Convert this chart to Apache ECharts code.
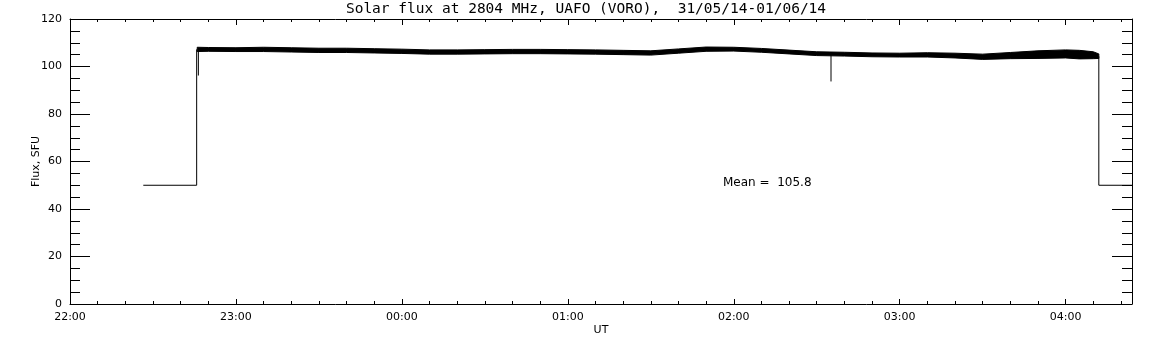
<!DOCTYPE html>
<html>
<head>
<meta charset="utf-8">
<script src="https://cdn.jsdelivr.net/npm/echarts@6/dist/echarts.min.js"></script>
<style>
  html, body { margin: 0; padding: 0; background: #fff; }
  #chart { width: 1152px; height: 345px; }
</style>
</head>
<body>
<div id="chart"></div>
<script>
// axis ticks (UT), minutes counted from 22:00
const xTickLabels = ["22:00", "23:00", "00:00", "01:00", "02:00", "03:00", "04:00"];
const axisEnd = "04:24";

const bandTimes = ["22:46", "22:50", "23:00", "23:10", "23:20", "23:30", "23:40", "23:50",
  "00:00", "00:10", "00:20", "00:30", "00:40", "00:50", "01:00", "01:10", "01:20", "01:30",
  "01:40", "01:50", "02:00", "02:10", "02:20", "02:30", "02:40", "02:50", "03:00", "03:10",
  "03:20", "03:30", "03:40", "03:50", "04:00", "04:05", "04:10", "04:12"];
const bandLow = [106.3, 106.4, 106.3, 106.3, 106.1, 105.9, 105.9, 105.7,
  105.5, 105.2, 105.2, 105.3, 105.4, 105.4, 105.3, 105.2, 105.0, 104.8,
  105.6, 106.4, 106.5, 106.0, 105.3, 104.6, 104.4, 104.1, 104.0, 104.0,
  103.6, 103.0, 103.3, 103.4, 103.6, 103.2, 103.3, 103.4];
const bandHigh = [108.1, 108.0, 107.9, 108.1, 107.9, 107.7, 107.7, 107.5,
  107.3, 107.0, 107.0, 107.1, 107.2, 107.2, 107.1, 107.0, 106.8, 106.6,
  107.4, 108.2, 108.1, 107.6, 106.9, 106.2, 106.0, 105.7, 105.6, 105.8,
  105.6, 105.2, 105.9, 106.6, 107.0, 106.8, 106.2, 105.3];

// receiver off level before / after the session
const startTimes = ["22:26:30", "22:45:48", "22:45:48"];
const startFlux = [50, 50, 107.2];
const endTimes = ["04:12:00", "04:12:00", axisEnd];
const endFlux = [104.3, 50, 50];

// two short drop-outs
const spikeTimes = ["22:46:25", "02:35:10"];
const spikeTop = [107.0, 105.5];
const spikeBottom = [96.2, 93.7];

const meanFlux = 105.8;

function toMin(s) {
  const p = s.split(":").map(Number);
  let h = p[0];
  if (h < 22) h += 24;
  return (h - 22) * 60 + p[1] + (p[2] || 0) / 60;
}

const font = "DejaVu Sans";
const black = "#000";

const bandX = bandTimes.map(toMin);
const startData = startTimes.map((t, i) => [toMin(t), startFlux[i]]);
const endData = endTimes.map((t, i) => [toMin(t), endFlux[i]]);
const spikeData = [];
spikeTimes.forEach((t, i) => {
  spikeData.push([toMin(t), spikeTop[i]], [toMin(t), spikeBottom[i]], [toMin(t), "-"]);
});

const xMax = toMin(axisEnd);

function xAxisDef(pos, interval, tickLen, withLabels) {
  return {
    type: "value",
    position: pos,
    min: 0,
    max: xMax,
    interval: interval,
    splitLine: { show: false },
    axisLine: { show: interval === 60, onZero: false, lineStyle: { color: black, width: 1 } },
    axisTick: { show: true, inside: true, length: tickLen, lineStyle: { color: black, width: 1 } },
    axisLabel: {
      show: withLabels,
      color: black,
      fontFamily: font,
      fontSize: 11,
      margin: 8,
      formatter: function (v) {
        return v % 60 === 0 ? (xTickLabels[v / 60] || "") : "";
      }
    },
    name: withLabels ? "UT" : "",
    nameLocation: "middle",
    nameGap: 21,
    nameMoveOverlap: false,
    nameTextStyle: { color: black, fontFamily: font, fontSize: 11 }
  };
}

function yAxisDef(pos, withLabels) {
  return {
    type: "value",
    position: pos,
    min: 0,
    max: 120,
    interval: 20,
    splitLine: { show: false },
    axisLine: { show: true, onZero: false, lineStyle: { color: black, width: 1 } },
    axisTick: { show: true, inside: true, length: 20, lineStyle: { color: black, width: 1 } },
    minorTick: { show: true, splitNumber: 4, length: 10, lineStyle: { color: black, width: 1 } },
    axisLabel: { show: withLabels, color: black, fontFamily: font, fontSize: 11, margin: 8 },
    name: withLabels ? "Flux, SFU" : "",
    nameLocation: "middle",
    nameGap: 28,
    nameMoveOverlap: false,
    nameTextStyle: { color: black, fontFamily: font, fontSize: 11 }
  };
}

const chart = echarts.init(document.getElementById("chart"), null, { renderer: "canvas" });

const option = {
  animation: false,
  backgroundColor: "#fff",
  grid: { left: 70, right: 20, top: 19, bottom: 41, containLabel: false },
  xAxis: [
    xAxisDef("bottom", 60, 5, true),
    xAxisDef("bottom", 10, 3, false),
    xAxisDef("top", 60, 6, false),
    xAxisDef("top", 10, 3, false)
  ],
  yAxis: [yAxisDef("left", true), yAxisDef("right", false)],
  graphic: [
    {
      type: "text",
      x: 586,
      y: 9,
      style: {
        text: "Solar flux at 2804 MHz, UAFO (VORO),  31/05/14-01/06/14",
        fill: black,
        font: "14.5px DejaVu Sans Mono",
        textAlign: "center",
        textVerticalAlign: "middle"
      }
    },
    {
      type: "text",
      x: 723,
      y: 183,
      style: {
        text: "Mean =  " + meanFlux.toFixed(1),
        fill: black,
        font: "12px " + font,
        textAlign: "left",
        textVerticalAlign: "middle"
      }
    }
  ],
  series: [
    {
      // band between lower and upper edge, drawn as one polygon
      name: "band",
      type: "custom",
      data: [0],
      silent: true,
      renderItem: function (params, api) {
        const pts = [];
        for (let i = 0; i < bandX.length; i++) pts.push(api.coord([bandX[i], bandHigh[i]]));
        for (let i = bandX.length - 1; i >= 0; i--) pts.push(api.coord([bandX[i], bandLow[i]]));
        return {
          type: "polygon",
          shape: { points: pts },
          style: { fill: black, stroke: black, lineWidth: 1 }
        };
      }
    },
    {
      name: "start",
      type: "line",
      data: startData,
      symbol: "none",
      lineStyle: { color: black, width: 1 },
      silent: true
    },
    {
      name: "end",
      type: "line",
      data: endData,
      symbol: "none",
      lineStyle: { color: black, width: 1 },
      silent: true
    },
    {
      name: "spikes",
      type: "line",
      data: spikeData,
      symbol: "none",
      connectNulls: false,
      lineStyle: { color: black, width: 1 },
      silent: true
    }
  ]
};

chart.setOption(option);
</script>
</body>
</html>
